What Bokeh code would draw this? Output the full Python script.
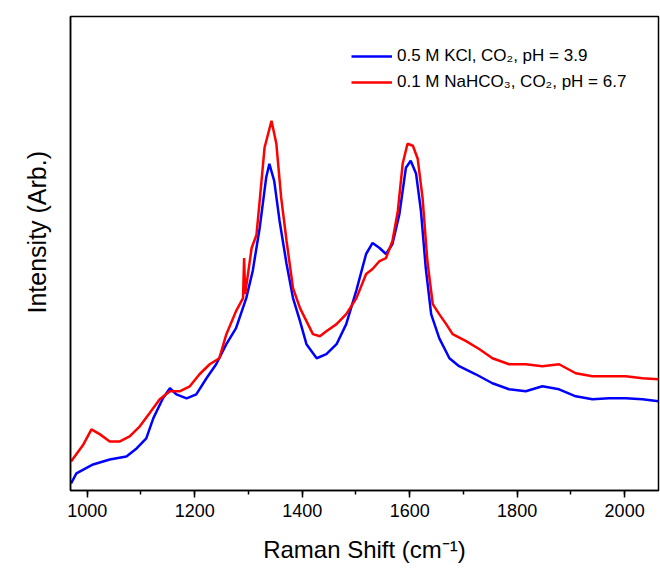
from bokeh.plotting import figure
from bokeh.models import Range1d, FixedTicker, Legend, LegendItem, Title
from bokeh.embed import file_html
from bokeh.resources import INLINE

# Raman shift (cm^-1) and intensity (arb.)
blue_x = [970, 980, 1011, 1042, 1073, 1092, 1110, 1123, 1141, 1154, 1166, 1185, 1203, 1222, 1240,
          1259, 1277, 1296, 1308, 1321, 1333, 1339, 1348, 1358, 1371, 1383, 1396, 1408, 1427,
          1445, 1464, 1482, 1501, 1519, 1531, 1544, 1556, 1568, 1581, 1593, 1602, 1612, 1621,
          1630, 1640, 1655, 1674, 1692, 1723, 1754, 1785, 1816, 1847, 1878, 1909, 1940, 1971,
          2002, 2033, 2063]
blue_y = [7, 17, 26, 31, 34, 42, 52, 72, 92, 102, 96, 92, 96, 112, 126,
          146, 162, 192, 219, 262, 312, 326, 309, 269, 226, 192, 169, 146, 132,
          136, 146, 166, 200, 236, 247, 242, 236, 246, 276, 322, 329, 316, 279,
          222, 176, 152, 132, 124, 116, 107, 101, 99, 104, 101, 94, 91, 92,
          92, 91, 89]

red_x = [970, 993, 1008, 1024, 1042, 1061, 1079, 1098, 1116, 1135, 1154, 1172, 1191, 1209, 1228,
         1246, 1259, 1277, 1290, 1292, 1294, 1306, 1315, 1321, 1330, 1343, 1352, 1361, 1371,
         1383, 1396, 1408, 1420, 1433, 1445, 1464, 1482, 1501, 1519, 1531, 1544, 1556, 1568,
         1578, 1587, 1596, 1606, 1615, 1624, 1633, 1643, 1655, 1668, 1680, 1705, 1730, 1754,
         1785, 1816, 1847, 1878, 1909, 1940, 1971, 2002, 2033, 2063]
red_y = [29, 46, 61, 56, 49, 49, 54, 64, 77, 91, 99, 99, 104, 116, 126,
         132, 156, 179, 192, 232, 196, 242, 255, 289, 342, 369, 346, 292, 249,
         202, 182, 169, 156, 154, 159, 166, 176, 192, 216, 221, 229, 232, 249,
         279, 326, 346, 344, 331, 292, 229, 186, 176, 166, 156, 149, 141, 132,
         126, 126, 124, 126, 117, 114, 114, 114, 112, 111]

series_labels = ["0.5 M KCl, CO\u2082, pH = 3.9", "0.1 M NaHCO\u2083, CO\u2082, pH = 6.7"]
x_ticks = [1000, 1200, 1400, 1600, 1800, 2000]
x_title = "Raman Shift (cm\u207b\u00b9)"
y_title = "Intensity (Arb.)"

FONT = "Liberation Sans"

p = figure(width=660, height=570, output_backend="svg", toolbar_location=None,
           x_range=Range1d(969, 2063), y_range=Range1d(0, 473),
           min_border_left=70, min_border_right=2, min_border_top=16, min_border_bottom=80)
p.background_fill_color = "white"
p.border_fill_color = "white"
p.outline_line_color = "black"
p.outline_line_width = 1.5
p.xgrid.visible = False
p.ygrid.visible = False

xa = p.xaxis[0]
xa.ticker = FixedTicker(ticks=x_ticks, minor_ticks=list(range(1000, 2101, 100)))
xa.axis_label = x_title
xa.axis_label_text_font = FONT
xa.axis_label_text_font_size = "24px"
xa.axis_label_text_font_style = "normal"
xa.axis_label_text_color = "black"
xa.axis_label_standoff = 16
xa.major_label_text_font = FONT
xa.major_label_text_font_size = "18px"
xa.major_label_text_color = "black"
xa.major_label_standoff = 6
xa.axis_line_width = 1.5
xa.axis_line_color = "black"
xa.major_tick_out = 7
xa.major_tick_in = 0
xa.minor_tick_out = 4
xa.minor_tick_in = 0
xa.major_tick_line_width = 1.5
xa.minor_tick_line_width = 1.5
xa.major_tick_line_color = "black"
xa.minor_tick_line_color = "black"

ya = p.yaxis[0]
ya.ticker = FixedTicker(ticks=[])
ya.major_tick_out = 0
ya.major_tick_in = 0
ya.minor_tick_out = 0
ya.minor_tick_in = 0
ya.axis_line_width = 1.5
ya.axis_line_color = "black"

# y title placed like the reference (slightly above the frame centre)
p.add_layout(Title(text=y_title, align="left", offset=177, standoff=39,
                   text_font=FONT, text_font_size="25px", text_font_style="normal",
                   text_color="black"), "left")

r_blue = p.line(blue_x, blue_y, line_color="#0000ff", line_width=2.5)
r_red = p.line(red_x, red_y, line_color="#ff0000", line_width=2.5)

legend = Legend(items=[LegendItem(label=series_labels[0], renderers=[r_blue]),
                       LegendItem(label=series_labels[1], renderers=[r_red])],
                location=(281, 398), padding=0, margin=0, spacing=6,
                glyph_width=41, glyph_height=20, label_height=20, label_standoff=5,
                label_text_font=FONT, label_text_font_size="17px", label_text_color="black",
                border_line_color=None, background_fill_alpha=0)
p.add_layout(legend)

open("out.html", "w").write(file_html(p, INLINE))
